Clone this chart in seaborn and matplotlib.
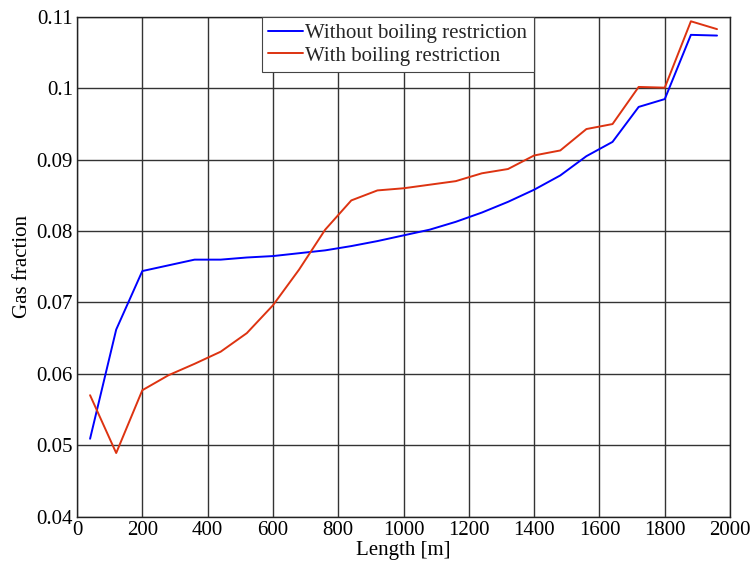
import numpy as np
import pandas as pd
import matplotlib
matplotlib.use("Agg")
import matplotlib.pyplot as plt
import seaborn as sns

length_m = [40, 120, 200, 280, 360, 440, 520, 600, 680, 760, 840, 920, 1000,
            1080, 1160, 1240, 1320, 1400, 1480, 1560, 1640, 1720, 1800, 1880, 1960]
gas_without = [0.0509, 0.0662, 0.0744, 0.0752, 0.0760, 0.0760, 0.0763, 0.0765,
               0.0769, 0.0773, 0.0779, 0.0786, 0.0794, 0.0802, 0.0813, 0.0826,
               0.0841, 0.0858, 0.0878, 0.0905, 0.0925, 0.0974, 0.0985, 0.1075, 0.1074]
gas_with = [0.0570, 0.0489, 0.0577, 0.0598, 0.0614, 0.0631, 0.0657, 0.0696,
            0.0746, 0.0802, 0.0843, 0.0857, 0.0860, 0.0865, 0.0870, 0.0881,
            0.0887, 0.0906, 0.0913, 0.0943, 0.0950, 0.1002, 0.1001, 0.1094, 0.1083]
series_names = ["Without boiling restriction", "With boiling restriction"]
x_ticks = [0, 200, 400, 600, 800, 1000, 1200, 1400, 1600, 1800, 2000]
y_ticks = [0.04, 0.05, 0.06, 0.07, 0.08, 0.09, 0.1, 0.11]
y_tick_labels = ["0.04", "0.05", "0.06", "0.07", "0.08", "0.09", "0.1", "0.11"]

df = pd.DataFrame({
    "Length": length_m * 2,
    "Gas fraction": gas_without + gas_with,
    "Case": [series_names[0]] * len(length_m) + [series_names[1]] * len(length_m),
})

sns.set_theme(style="white")
plt.rcParams["font.family"] = ["Liberation Serif", "DejaVu Serif"]

fig = plt.figure(figsize=(7.55, 5.67), dpi=100)
ax = fig.add_axes([0.102, 0.089, 0.865, 0.881])

sns.lineplot(data=df, x="Length", y="Gas fraction", hue="Case",
             palette={series_names[0]: "#0000FF", series_names[1]: "#DD3311"},
             linewidth=1.4, ax=ax, sort=False, estimator=None)

ax.set_xlim(0, 2000)
ax.set_ylim(0.04, 0.11)
ax.set_xticks(x_ticks)
ax.set_xticklabels([str(t) for t in x_ticks])
ax.set_yticks(y_ticks)
ax.set_yticklabels(y_tick_labels)
ax.tick_params(axis="both", length=0, labelsize=15, pad=3, colors="black")
ax.grid(True, color="#333333", linewidth=1.0)
for s in ax.spines.values():
    s.set_color("#222222")
    s.set_linewidth(1.0)

ax.set_xlabel("Length [m]", fontsize=15, labelpad=1, color="black")
ax.set_ylabel("Gas fraction", fontsize=15, labelpad=3, color="black")

leg = ax.legend(loc="upper center", bbox_to_anchor=(0.491, 1.0), fontsize=15,
                frameon=True, fancybox=False, framealpha=1, edgecolor="#444444",
                handlelength=1.7, handletextpad=0.1, borderpad=0.3,
                labelspacing=0.15, borderaxespad=0.0)
leg.get_frame().set_linewidth(0.8)

fig.savefig("out.png", dpi=100)
